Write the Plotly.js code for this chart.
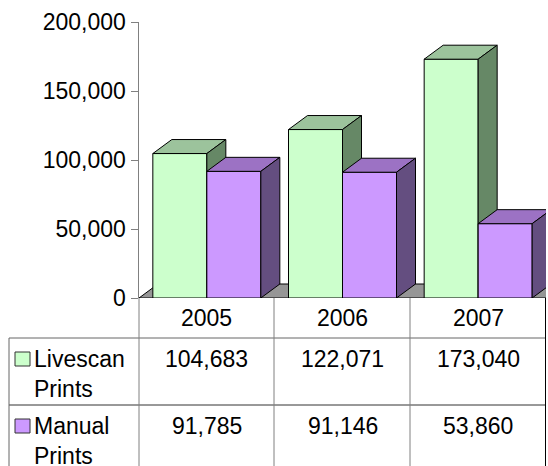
<!DOCTYPE html>
<html>
<head>
<meta charset="utf-8">
<script src="https://cdn.plot.ly/plotly-3.0.1.min.js"></script>
<style>html,body{margin:0;padding:0;background:#fff;}#chart{width:548px;height:466px;}</style>
</head>
<body>
<div id="chart"></div>
<script>
// ---- data ----
var years = ["2005", "2006", "2007"];
var seriesNames = ["Livescan<br>Prints", "Manual<br>Prints"];
var livescan = [104683, 122071, 173040];
var manual = [91785, 91146, 53860];
var yTicks = [0, 50000, 100000, 150000, 200000];

// ---- styling / geometry ----
var W = 548, H = 466;
var L = 139, R = 2, T = 22, B = 168;
var plotW = W - L - R, plotH = H - T - B;
var yMax = 200000;
var catPx = plotW / 3;
var barW = 54 / catPx;               // bar width in category units
var DX = 19 / catPx;                 // depth offset (category units)
var DY = 14 * yMax / plotH;          // depth offset (value units)
var FONT = "Liberation Sans, Arial, sans-serif";
var FS = 23;

var colors = [
  {front: "#CCFFCC", top: "#9CC39C", side: "#668866"},
  {front: "#CC99FF", top: "#9C72C4", side: "#644E80"}
];
var allSeries = [livescan, manual];

function px(x) { return (x - L) / plotW; }
function py(y) { return (T + plotH - y) / plotH; }

var traces = [];
// floor
traces.push({
  type: "scatter", mode: "lines", fill: "toself",
  x: [-0.5, 2.5, 2.5 + DX, -0.5 + DX, -0.5],
  y: [0, 0, DY, DY, 0],
  fillcolor: "#969696", line: {color: "#000", width: 1},
  hoverinfo: "skip", showlegend: false
});

allSeries.forEach(function (vals, s) {
  var fx = [], fy = [], tx = [], ty = [], sx = [], sy = [];
  vals.forEach(function (v, i) {
    var x0 = s === 0 ? i - barW : i;
    var x1 = x0 + barW;
    fx.push(x0, x1, x1, x0, x0, null); fy.push(0, 0, v, v, 0, null);
    tx.push(x0, x1, x1 + DX, x0 + DX, x0, null); ty.push(v, v, v + DY, v + DY, v, null);
    sx.push(x1, x1 + DX, x1 + DX, x1, x1, null); sy.push(0, DY, v + DY, v, 0, null);
  });
  [[fx, fy, colors[s].front], [tx, ty, colors[s].top], [sx, sy, colors[s].side]].forEach(function (f) {
    traces.push({
      type: "scatter", mode: "lines", fill: "toself",
      x: f[0], y: f[1], fillcolor: f[2],
      line: {color: "#000", width: 1},
      hoverinfo: "skip", showlegend: false
    });
  });
});

// ---- table ----
var shapes = [];
var annotations = [];
var gridColor = "#666";
function hline(y, x0, x1, c) {
  shapes.push({type: "line", xref: "paper", yref: "paper", x0: px(x0), x1: px(x1), y0: py(y), y1: py(y), line: {color: c || gridColor, width: 1}});
}
function vline(x, y0, y1, c) {
  shapes.push({type: "line", xref: "paper", yref: "paper", x0: px(x), x1: px(x), y0: py(y0), y1: py(y1), line: {color: c || gridColor, width: 1}});
}
var rowTop = [338, 405];
hline(338, 9, 546);
hline(405, 9, 546, "#333");
vline(9, 338, 466);
vline(139, 298, 466, "#808080");
vline(274, 298, 466, "#808080");
vline(410, 298, 466, "#808080");
vline(545.5, 298, 466, "#000");

years.forEach(function (yr, i) {
  annotations.push({
    xref: "x", yref: "paper", x: i, y: py(318), xanchor: "center", yanchor: "middle",
    text: yr, showarrow: false, font: {family: FONT, size: FS, color: "#000"}
  });
});
allSeries.forEach(function (vals, s) {
  var top = rowTop[s];
  shapes.push({type: "rect", xref: "paper", yref: "paper",
    x0: px(15), x1: px(30), y0: py(top + 14), y1: py(top + 28),
    fillcolor: colors[s].front, line: {color: "#333", width: 1}});
  annotations.push({
    xref: "paper", yref: "paper", x: px(32), y: py(top + 6), xanchor: "left", yanchor: "top",
    align: "left", text: seriesNames[s], showarrow: false,
    font: {family: FONT, size: FS, color: "#000"}
  });
  vals.forEach(function (v, i) {
    annotations.push({
      xref: "x", yref: "paper", x: i, y: py(top + 6), xanchor: "center", yanchor: "top",
      text: v.toLocaleString("en-US"), showarrow: false,
      font: {family: FONT, size: FS, color: "#000"}
    });
  });
});

var layout = {
  width: W, height: H,
  margin: {l: L, r: R, t: T, b: B, pad: 0},
  paper_bgcolor: "#fff", plot_bgcolor: "rgba(0,0,0,0)",
  showlegend: false,
  font: {family: FONT, size: FS, color: "#000"},
  xaxis: {range: [-0.5, 2.5], showgrid: false, zeroline: false, showticklabels: false,
          ticks: "", showline: false, fixedrange: true},
  yaxis: {range: [0, yMax], tickvals: yTicks, tickformat: ",d", showgrid: false, zeroline: false,
          ticks: "outside", ticklen: 7, tickcolor: "#808080", tickwidth: 1,
          showline: true, linecolor: "#808080", linewidth: 1.5,
          tickfont: {family: FONT, size: FS, color: "#000"}, fixedrange: true},
  shapes: shapes,
  annotations: annotations
};

Plotly.newPlot("chart", traces, layout, {staticPlot: true, displayModeBar: false});
</script>
</body>
</html>
